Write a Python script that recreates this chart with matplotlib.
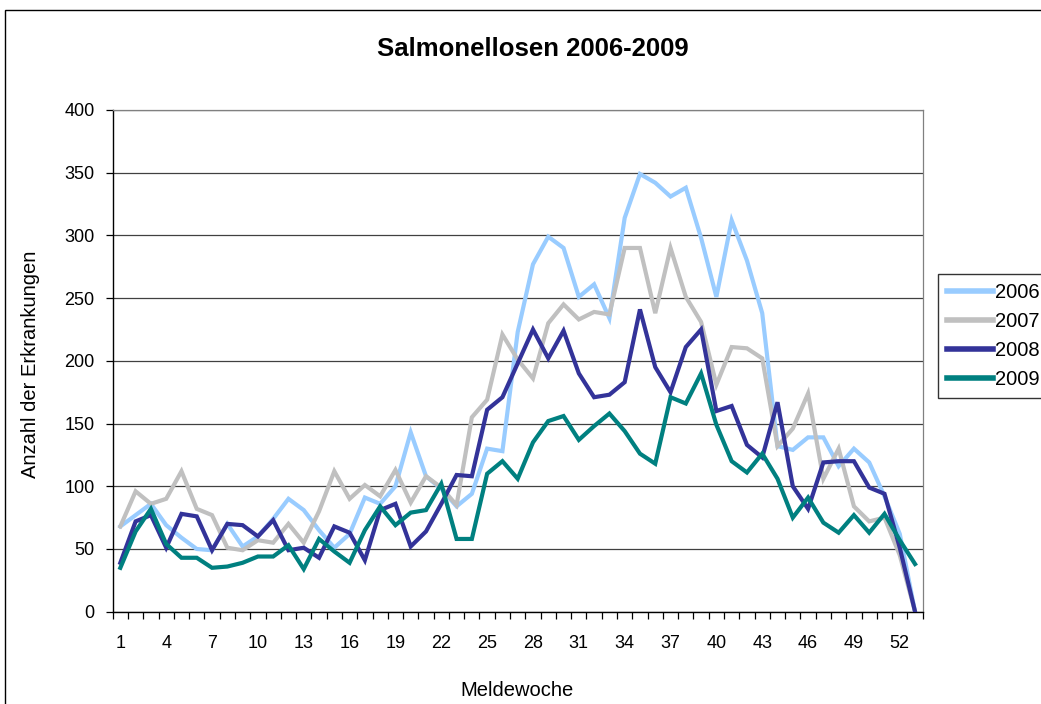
import matplotlib.pyplot as plt
from matplotlib.patches import Rectangle

plt.rcParams['font.family'] = ['Liberation Sans', 'DejaVu Sans']

# Meldewochen 1..53
weeks = list(range(1, 54))

cases_2006 = [68, 77, 86, 69, 59, 50, 49, 70, 52, 60,
              74, 90, 81, 65, 51, 62, 91, 86, 100, 143,
              108, 98, 84, 94, 130, 128, 223, 277, 299, 290,
              251, 261, 234, 314, 349, 342, 331, 338, 298, 251,
              312, 280, 238, 132, 129, 139, 139, 116, 130, 119,
              92, 62, 0]
cases_2007 = [68, 96, 86, 90, 112, 82, 77, 51, 49, 57,
              55, 70, 55, 80, 112, 90, 101, 92, 113, 87,
              108, 99, 85, 155, 169, 221, 201, 186, 230, 245,
              233, 239, 237, 290, 290, 238, 290, 251, 231, 181,
              211, 210, 202, 132, 146, 174, 106, 130, 84, 72,
              75, 45, 0]
cases_2008 = [39, 72, 77, 51, 78, 76, 49, 70, 69, 60,
              73, 49, 51, 43, 68, 63, 41, 81, 86, 52,
              64, 86, 109, 108, 161, 171, 198, 225, 202, 224,
              190, 171, 173, 183, 241, 195, 175, 211, 225, 160,
              164, 133, 123, 167, 100, 82, 119, 120, 120, 99,
              94, 51, 0]
cases_2009 = [35, 64, 82, 54, 43, 43, 35, 36, 39, 44,
              44, 53, 34, 58, 48, 39, 65, 84, 69, 79,
              81, 102, 58, 58, 110, 120, 106, 135, 152, 156,
              137, 148, 158, 144, 126, 118, 171, 166, 190, 149,
              120, 111, 126, 106, 75, 91, 71, 63, 77, 63,
              78, 57, 38]

series = [("2006", cases_2006, "#99CCFF"),
          ("2007", cases_2007, "#C0C0C0"),
          ("2008", cases_2008, "#333399"),
          ("2009", cases_2009, "#008080")]

W, H = 1041, 704
fig = plt.figure(figsize=(W / 100, H / 100), dpi=100)
fig.patch.set_facecolor("white")

# outer chart border (cut off at right and bottom)
fig.patches.append(Rectangle((5 / W, -0.1), 2, (H - 10) / H + 0.1,
                             transform=fig.transFigure, fill=False,
                             edgecolor="black", linewidth=1.0))

left, right, top, bottom = 112.7, 922.7, 110, 611.7
ax = fig.add_axes([left / W, (H - bottom) / H, (right - left) / W, (bottom - top) / H])

for name, vals, col in series:
    ax.plot(weeks, vals, color=col, linewidth=3.0, label=name,
            solid_joinstyle="miter", zorder=3)

ax.set_xlim(0.5, 53.5)
ax.set_ylim(0, 400)
ax.set_yticks(range(0, 401, 50))
ax.yaxis.grid(True, color="#404040", linewidth=0.9)
ax.set_axisbelow(True)

# category ticks between weeks, labels every third week
ax.set_xticks([k + 0.5 for k in range(0, 54)])
ax.set_xticklabels([])
ax.set_xticks(list(range(1, 54, 3)), minor=True)
ax.set_xticklabels([str(k) for k in range(1, 54, 3)], minor=True)
ax.tick_params(axis="x", which="major", length=5, width=0.9, direction="out")
ax.tick_params(axis="x", which="minor", length=0, pad=17, labelsize=13)
ax.tick_params(axis="y", length=5, width=0.9, direction="out", pad=8, labelsize=13)

for s in ["left", "bottom"]:
    ax.spines[s].set_color("black")
    ax.spines[s].set_linewidth(1.0)
for s in ["top", "right"]:
    ax.spines[s].set_color("#808080")
    ax.spines[s].set_linewidth(0.9)

fig.text(533 / W, 1 - 49 / H, "Salmonellosen 2006-2009", ha="center", va="center",
         fontsize=18.5, fontweight="bold")
fig.text(31 / W, 1 - 364 / H, "Anzahl der Erkrankungen", ha="center", va="center",
         rotation=90, fontsize=14.5)
fig.text(517 / W, 1 - 690 / H, "Meldewoche", ha="center", va="center", fontsize=14.5)

leg = fig.legend(loc="lower left", bbox_to_anchor=(938 / W, (H - 398) / H),
                 frameon=True, fancybox=False, edgecolor="black", fontsize=14.5,
                 handlelength=2.3, handletextpad=0.1, labelspacing=0.5,
                 borderpad=0.45, borderaxespad=0)
leg.get_frame().set_linewidth(1.0)
for line in leg.get_lines():
    line.set_linewidth(4)

fig.savefig("out.png", dpi=100)
